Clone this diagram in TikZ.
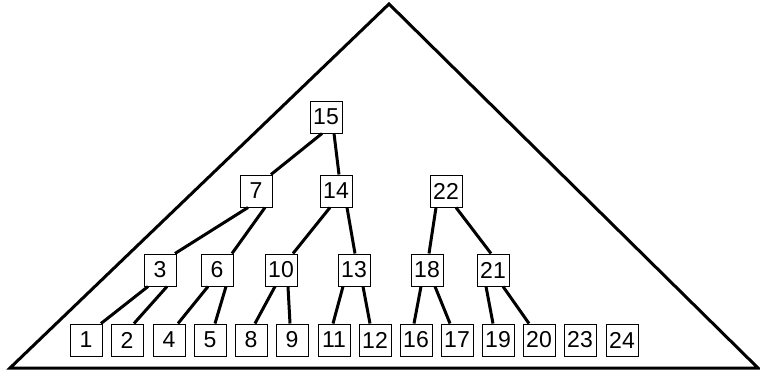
\documentclass[tikz,border=0pt]{standalone}
\usepackage{fontspec}
\setmainfont{Liberation Sans}
\begin{document}
\begin{tikzpicture}[x=1pt,y=-1pt,
  key/.style={draw,line width=1pt,minimum width=32pt,minimum height=32pt,inner sep=0pt,font=\fontsize{23}{23}\selectfont,fill=white},
  link/.style={line width=3pt}]
\useasboundingbox (0,0) rectangle (760,372);
\coordinate (apex) at (389,4);
\coordinate (bl) at (10,368);
\coordinate (br) at (758,368);
\draw[line width=3pt,line join=miter] (apex) -- (bl) -- (br) -- cycle;
% root
\node[key] (n15) at (326,117) {15};
% level 1
\node[key] (n7) at (256,191) {7};
\node[key] (n14) at (336,191) {14};
\node[key] (n22) at (446,191) {22};
% level 2
\node[key] (n3) at (160,270) {3};
\node[key] (n6) at (217,270) {6};
\node[key] (n10) at (281,270) {10};
\node[key] (n13) at (354,270) {13};
\node[key] (n18) at (427,270) {18};
\node[key] (n21) at (493,270) {21};
% leaves
\node[key] (n1) at (86,340) {1};
\node[key] (n2) at (127,340) {2};
\node[key] (n4) at (169,340) {4};
\node[key] (n5) at (210,340) {5};
\node[key] (n8) at (251,340) {8};
\node[key] (n9) at (292,340) {9};
\node[key] (n11) at (334,340) {11};
\node[key] (n12) at (375,340) {12};
\node[key] (n16) at (416,340) {16};
\node[key] (n17) at (457,340) {17};
\node[key] (n19) at (498,340) {19};
\node[key] (n20) at (539,340) {20};
\node[key] (n23) at (580,340) {23};
\node[key] (n24) at (622,340) {24};
% links
\draw[link] ([xshift=-4pt]n15.south) -- ([xshift=15pt]n7.north);
\draw[link] ([xshift=8pt]n15.south) -- ([xshift=3pt]n14.north);
\draw[link] ([xshift=-8pt]n7.south) -- ([xshift=15pt]n3.north);
\draw[link] ([xshift=9pt]n7.south) -- ([xshift=15pt]n6.north);
\draw[link] ([xshift=-6pt]n14.south) -- ([xshift=12pt]n10.north);
\draw[link] ([xshift=11pt]n14.south) -- ([xshift=1pt]n13.north);
\draw[link] ([xshift=-10pt]n22.south) -- ([xshift=2pt]n18.north);
\draw[link] ([xshift=10pt]n22.south) -- ([xshift=-2pt]n21.north);
\draw[link] ([xshift=-12pt]n3.south) -- ([xshift=15pt]n1.north);
\draw[link] ([xshift=7pt]n3.south) -- ([xshift=7pt]n2.north);
\draw[link] ([xshift=-9pt]n6.south) -- ([xshift=9pt]n4.north);
\draw[link] ([xshift=9pt]n6.south) -- ([xshift=5pt]n5.north);
\draw[link] ([xshift=-6pt]n10.south) -- ([xshift=4pt]n8.north);
\draw[link] ([xshift=7pt]n10.south) -- ([xshift=-2pt]n9.north);
\draw[link] ([xshift=-11pt]n13.south) -- ([xshift=-1pt]n11.north);
\draw[link] ([xshift=9pt]n13.south) -- ([xshift=-5pt]n12.north);
\draw[link] ([xshift=-6pt]n18.south) -- ([xshift=-2pt]n16.north);
\draw[link] ([xshift=8pt]n18.south) -- ([xshift=-7pt]n17.north);
\draw[link] ([xshift=-7pt]n21.south) -- ([xshift=-5pt]n19.north);
\draw[link] ([xshift=10pt]n21.south) -- ([xshift=-10pt]n20.north);
\end{tikzpicture}
\end{document}
